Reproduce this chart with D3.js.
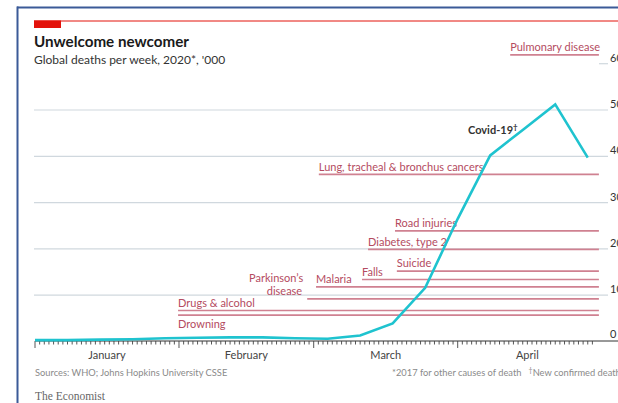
<!DOCTYPE html>
<html><head><meta charset="utf-8">
<script src="https://cdn.jsdelivr.net/npm/d3@7"></script>
<style>
html,body{margin:0;padding:0;background:#fff;overflow:hidden}
svg{display:block;font-family:Lato,"Open Sans",sans-serif}
</style></head><body>
<svg id="c" width="618" height="403"></svg>
<script>
// ---- data ----
const weekDates = ["2020-01-01","2020-01-08","2020-01-15","2020-01-22","2020-01-29","2020-02-05","2020-02-12","2020-02-19","2020-02-26","2020-03-04","2020-03-11","2020-03-18","2020-03-25","2020-04-01","2020-04-08","2020-04-15","2020-04-22","2020-04-29"];
const covidDeaths = [0.3,0.3,0.4,0.5,0.7,0.8,0.9,0.9,0.7,0.6,1.3,3.9,11.6,26.5,40.2,45.7,51.2,39.7];
const causes = ["Pulmonary disease","Lung, tracheal & bronchus cancers","Road injuries","Diabetes, type 2","Suicide","Falls","Malaria","Parkinson's disease","Drugs & alcohol","Drowning"];
const causeDeaths = [61.9,36.1,23.9,19.9,15.2,13.4,11.8,9.2,6.7,5.7];
const yTicks = [0,10,20,30,40,50,60];
const monthLabels = ["January","February","March","April"];
const monthStarts = ["2020-01-01","2020-02-01","2020-03-01","2020-04-01","2020-05-01"];

// ---- layout (annotation placement, in days from 1 Jan) ----
const labelStartDay = [102.3,61.1,77.5,71.7,77.9,70.4,60.5,58.6,30.8,30.8];
const lineEndDay = 121.4;

const svg = d3.select("#c");
const parse = d3.utcParse("%Y-%m-%d");
const t0 = parse("2020-01-01");
const dayDate = d => new Date(t0.getTime() + d*864e5);

const x = d3.scaleUtc().domain([t0, parse("2020-04-30")]).range([35, 592.4]);
const y = d3.scaleLinear().domain([0, 60]).range([341.5, 63.7]);

const RED_LINE = "#cf8191", RED_TEXT = "#b44b61", CYAN = "#1fc3cf";

// frame of screenshot
svg.append("line").attr("x1",17).attr("x2",618).attr("y1",7.5).attr("y2",7.5).attr("stroke","#3b5a98").attr("stroke-width",2);
svg.append("line").attr("x1",17.5).attr("x2",17.5).attr("y1",6.5).attr("y2",403).attr("stroke","#3b5a98").attr("stroke-width",2);

// economist red band
svg.append("line").attr("x1",34).attr("x2",618).attr("y1",21).attr("y2",21).attr("stroke","#e3120b").attr("stroke-width",1);
svg.append("rect").attr("x",34).attr("y",20.5).attr("width",27).attr("height",7.5).attr("fill","#e3120b");

// title
svg.append("text").attr("x",34).attr("y",47).attr("font-size",15.2).attr("font-weight",700).attr("fill","#1a1a1a").text("Unwelcome newcomer");
svg.append("text").attr("x",34).attr("y",64).attr("font-size",12).attr("fill","#333").text("Global deaths per week, 2020*, '000");

// gridlines
const grid = svg.append("g");
yTicks.filter(v => v > 0).forEach(v => {
  grid.append("line")
    .attr("x1", v === 60 ? 599 : 34).attr("x2", 608)
    .attr("y1", y(v)).attr("y2", y(v))
    .attr("stroke", "#d0d8de").attr("stroke-width", 1.2);
});
// y labels
svg.append("g").selectAll("text").data(yTicks).join("text")
  .attr("x", 610).attr("y", d => y(d) - (d === 0 ? 4 : 2))
  .attr("font-size", 11).attr("fill", "#333").text(d => d);

// cause-of-death lines
const cg = svg.append("g");
causes.forEach((c, i) => {
  const yy = y(causeDeaths[i]);
  const xs = x(dayDate(labelStartDay[i]));
  cg.append("line").attr("x1", xs).attr("x2", x(dayDate(lineEndDay)))
    .attr("y1", yy).attr("y2", yy).attr("stroke", RED_LINE).attr("stroke-width", 1.6);
});
// labels
const lg = svg.append("g").attr("font-size", 11).attr("fill", RED_TEXT);
causes.forEach((c, i) => {
  const yy = y(causeDeaths[i]);
  const xs = x(dayDate(labelStartDay[i]));
  if (c === "Parkinson's disease") {
    lg.append("text").attr("x", xs - 4).attr("y", yy - 17).attr("text-anchor","end").text("Parkinson\u2019s");
    lg.append("text").attr("x", xs - 5).attr("y", yy - 3.5).attr("text-anchor","end").text("disease");
  } else if (c === "Drowning") {
    lg.append("text").attr("x", xs).attr("y", yy + 13).text(c);
  } else {
    lg.append("text").attr("x", xs).attr("y", yy - 3.8).text(c);
  }
});

// x axis baseline and ticks
svg.append("line").attr("x1",35).attr("x2",618).attr("y1",341).attr("y2",341).attr("stroke","#333").attr("stroke-width",1);
const days = d3.utcDay.range(t0, parse("2020-05-01"));
svg.append("g").selectAll("line").data(days).join("line")
  .attr("x1", d => x(d)).attr("x2", d => x(d))
  .attr("y1", 341).attr("y2", d => d.getUTCDate() === 1 ? 348 : 344.5)
  .attr("stroke", "#444").attr("stroke-width", 0.9);
// month labels
const ms = monthStarts.map(parse);
svg.append("g").selectAll("text").data(monthLabels).join("text")
  .attr("x", (d, i) => (x(ms[i]) + x(ms[i+1])) / 2)
  .attr("y", 359).attr("text-anchor","middle")
  .attr("font-size", 11).attr("fill", "#444").text(d => d);

// covid line
const line = d3.line().x((d, i) => x(parse(weekDates[i]))).y(d => y(d));
svg.append("path").datum(covidDeaths).attr("d", line)
  .attr("fill","none").attr("stroke", CYAN).attr("stroke-width", 2.6).attr("stroke-linejoin","miter");
const cl = svg.append("text").attr("x", 468).attr("y", 134).attr("font-size", 11).attr("font-weight", 700).attr("fill", "#333");
cl.append("tspan").text("Covid-19");
cl.append("tspan").attr("dy", -4).attr("font-size", 8).text("\u2020");

// footer
svg.append("text").attr("x",35).attr("y",376).attr("font-size",9.3).attr("fill","#8a8a8a").text("Sources: WHO; Johns Hopkins University CSSE");
const fn = svg.append("text").attr("x",392).attr("y",376).attr("font-size",9.3).attr("fill","#8a8a8a");
fn.append("tspan").text("*2017 for other causes of death \u00a0\u00a0");
fn.append("tspan").attr("dy",-3).attr("font-size",7).text("\u2020");
fn.append("tspan").attr("dy",3).text("New confirmed deaths");
svg.append("text").attr("x",35).attr("y",400).attr("font-size",11.5).attr("font-family","'Liberation Serif','DejaVu Serif',serif").attr("fill","#666").text("The Economist");
</script>
</body></html>
